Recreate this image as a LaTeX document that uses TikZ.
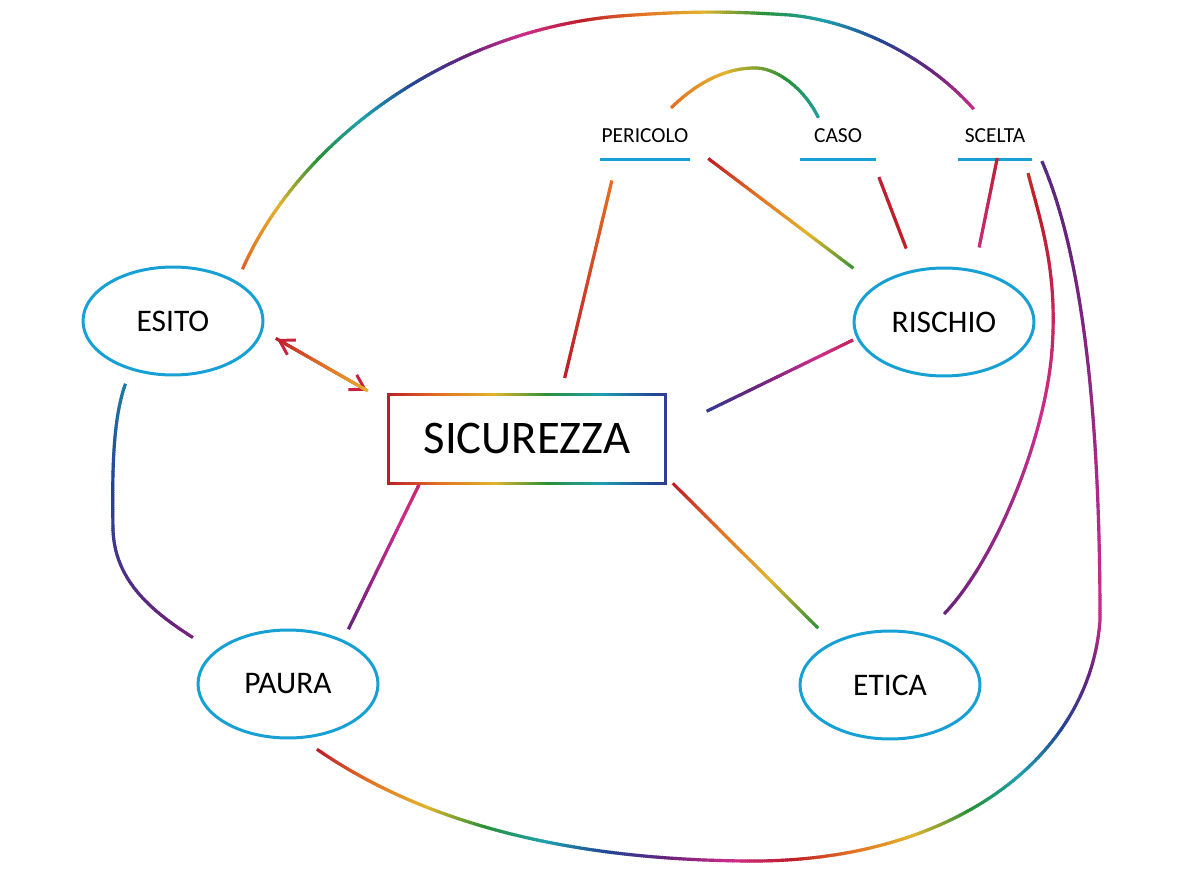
\documentclass[tikz,border=0pt]{standalone}
\usepackage{fontspec}
\setmainfont{Carlito}
\usetikzlibrary{shapes.geometric,decorations.markings,arrows.meta}
\definecolor{mapblue}{RGB}{22,160,212}
\definecolor{inkred}{RGB}{200,35,60}
% ink stops: red, orange, yellow, green, teal, blue, purple, magenta, red
\def\inkR{{190,228,226,40,30,35,105,205,190}}
\def\inkG{{30,115,180,145,160,70,35,45,30}}
\def\inkB{{40,35,45,55,175,150,125,140,40}}
\begin{document}
\begin{tikzpicture}[x=0.02cm, y=-0.02cm, >={Straight Barb[length=2.8mm,width=3.4mm]},
	idea/.style={ellipse, draw=mapblue, line width=1.7pt, minimum width=3.6cm, minimum height=2.16cm, inner sep=0pt, font=\fontsize{17.9}{21}\selectfont},
	core/.style={rectangle, minimum width=5.54cm, minimum height=1.76cm, inner sep=0pt, font=\fontsize{26.6}{31}\selectfont},
	term/.style={anchor=base, inner sep=0pt, text depth=0.32cm, font=\fontsize{12.2}{14}\selectfont},
	underline/.style={draw=mapblue, line width=1.7pt},
	ink/.style 2 args={draw=none, postaction={decorate, decoration={markings,
		mark=between positions 0 and 1 step 1.2pt with {
			\pgfmathsetmacro\inkh{mod(#1+(#2)*\pgfkeysvalueof{/pgf/decoration/mark info/distance from start}/\pgfdecoratedpathlength+10,1)*8}
			\pgfmathtruncatemacro\inki{floor(\inkh)}
			\pgfmathsetmacro\inkt{\inkh-\inki}
			\pgfmathtruncatemacro\inkr{\inkR[\inki]*(1-\inkt)+\inkR[\inki+1]*\inkt}
			\pgfmathtruncatemacro\inkg{\inkG[\inki]*(1-\inkt)+\inkG[\inki+1]*\inkt}
			\pgfmathtruncatemacro\inkb{\inkB[\inki]*(1-\inkt)+\inkB[\inki+1]*\inkt}
			\definecolor{inkc}{RGB}{\inkr,\inkg,\inkb}
			\draw[-, draw=inkc, line width=1.8pt] (-0.8pt,0) -- (0.8pt,0);
		}}}}]
		\useasboundingbox (0,0) rectangle (1186,878);

		\node[idea] (esito) at (173,321) {ESITO};
		\node[idea] (rischio) at (944,322) {RISCHIO};
		\node[idea] (paura) at (288,684) {PAURA};
		\node[idea] (etica) at (890,685) {ETICA};
		\node[core] (sicurezza) at (527,439) {SICUREZZA};

		\node[term, minimum width=1.8cm] (pericolo) at (645,143) {PERICOLO};
		\node[term, minimum width=1.52cm] (caso) at (838,143) {CASO};
		\node[term, minimum width=1.48cm] (scelta) at (995,143) {SCELTA};
		\foreach \t in {pericolo,caso,scelta}
			\draw[underline] (\t.south west) -- (\t.south east);

		% cornice
		\draw[ink={0}{0.65}] (sicurezza.north west) -- (sicurezza.north east);
		\draw[ink={0}{0.65}] (sicurezza.south west) -- (sicurezza.south east);
		\draw[ink={0}{0}] (sicurezza.south west) -- (sicurezza.north west);
		\draw[ink={0.65}{0}] (sicurezza.south east) -- (sicurezza.north east);

		\draw[ink={0}{0.24}, draw=inkred, line width=1.7pt, <->] ([shift={(104,18)}]esito.center) -- ([shift={(-21,-4)}]sicurezza.north west);
		\draw[ink={0}{0.12}] ([shift={(38,-18)}]sicurezza.north) -- ([shift={(12,22)}]pericolo.south west);
		\draw[ink={0}{0.36}] ([shift={(19,0)}]pericolo.south east) -- ([shift={(-91,-54)}]rischio.center);
		\draw[ink={0.98}{0.03}] ([shift={(3,19)}]caso.south east) -- ([shift={(-38,-74)}]rischio.center);
		\draw[ink={0.98}{-0.08}] ([shift={(2,0)}]scelta.south) -- ([shift={(35,-74)}]rischio.center);
		\draw[ink={0.66}{0.28}] ([shift={(42,16)}]sicurezza.north east) -- ([shift={(-91,18)}]rischio.center);
		\draw[ink={0.75}{0.17}] ([shift={(61,-56)}]paura.center) -- ([shift={(31,1)}]sicurezza.south west);
		\draw[ink={0}{0.37}] ([shift={(8,1)}]sicurezza.south east) -- ([shift={(-72,-57)}]etica.center);

		% archi
		\draw[ink={0.12}{0.36}] ([shift={(27,-36)}]pericolo.base) .. controls (700,80) and (728,68) .. (755,68) .. controls (778,68) and (805,90) .. ([shift={(-20,-26)}]caso.base);
		\draw[ink={0.55}{0.22}] ([shift={(-48,64)}]esito.center) .. controls (113,420) and (112,470) .. (113,530) .. controls (115,580) and (150,610) .. ([shift={(-96,-47)}]paura.center);
		\draw[ink={0.1}{1.77}] ([shift={(70,-53)}]esito.center) .. controls (300,140) and (450,30) .. (620,16) .. controls (700,10) and (740,12) .. (790,15) .. controls (860,22) and (930,60) .. ([shift={(-22,-51)}]scelta.south);
		\draw[ink={0.75}{0.27}] ([shift={(55,-72)}]etica.center) .. controls (995,560) and (1045,440) .. (1052,350) .. controls (1058,270) and (1040,220) .. ([shift={(-4,15)}]scelta.south east);
		\coordinate (bend) at (1100,620);
		\draw[ink={0.72}{0.16}] ([shift={(10,3)}]scelta.south east) .. controls (1080,250) and (1100,400) .. (bend);
		\draw[ink={0}{1.87}] ([shift={(30,66)}]paura.center) .. controls (420,820) and (560,860) .. (750,861) .. controls (950,862) and (1090,760) .. (bend);
	\end{tikzpicture}
\end{document}
